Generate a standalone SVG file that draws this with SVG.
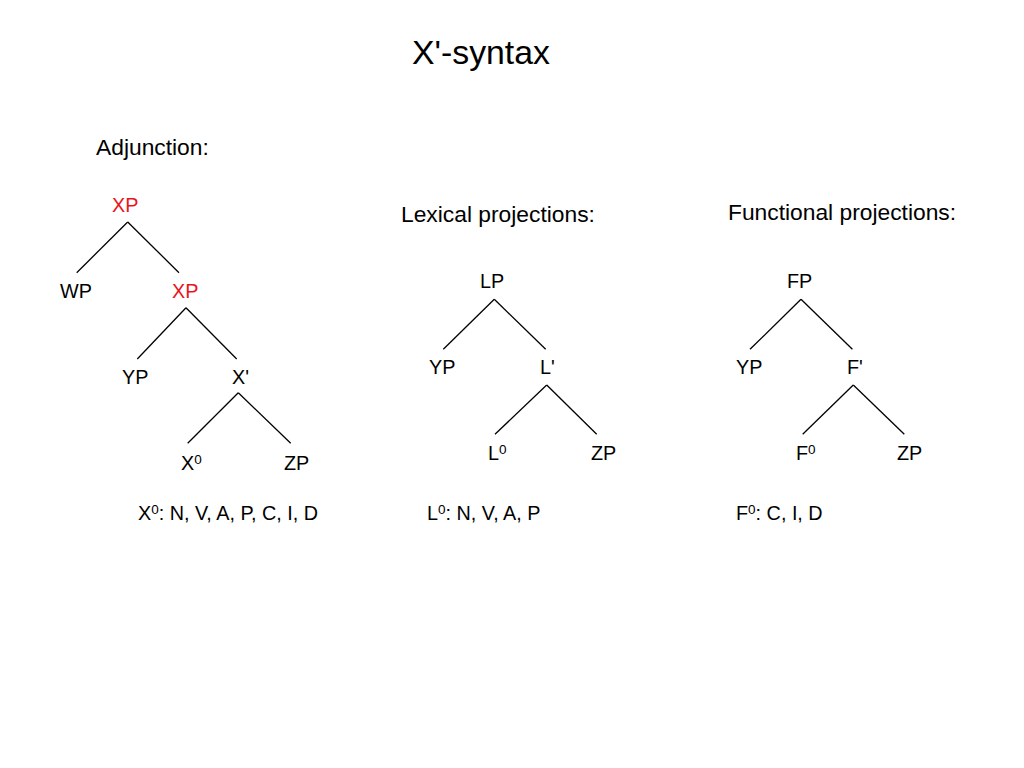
<svg xmlns="http://www.w3.org/2000/svg" width="1024" height="768" viewBox="0 0 1024 768">
<style>
text{font-family:"Liberation Sans",Arial,sans-serif;fill:#000}
.t{font-size:33.8px}
.h{font-size:22.8px}
.n{font-size:19.8px}
.r{fill:#E8141C}
.s{font-size:13.5px}
.e line{stroke:#000;stroke-width:1.3}
</style>
<rect width="1024" height="768" fill="#fff"/>
<text class="t" x="412" y="64">X'-syntax</text>
<text class="h" x="96" y="155">Adjunction:</text>
<text class="h" x="401" y="222">Lexical projections:</text>
<text class="h" x="728" y="220">Functional projections:</text>
<g id="connectors" class="e">
<line x1="127.7" y1="222" x2="76.7" y2="272.7"/>
<line x1="127.7" y1="222" x2="179" y2="272.7"/>
<line x1="186" y1="307.7" x2="137.3" y2="359"/>
<line x1="186" y1="307.7" x2="236.7" y2="359"/>
<line x1="238.3" y1="392.7" x2="187.7" y2="443.3"/>
<line x1="238.3" y1="392.7" x2="290.7" y2="443.3"/>
<line x1="494.3" y1="299.3" x2="443.3" y2="349.3"/>
<line x1="494.3" y1="299.3" x2="545.7" y2="349.3"/>
<line x1="546.7" y1="385" x2="495" y2="434.3"/>
<line x1="546.7" y1="385" x2="596.7" y2="434.3"/>
<line x1="801" y1="299.3" x2="750" y2="349.3"/>
<line x1="801" y1="299.3" x2="852.4" y2="349.3"/>
<line x1="853.3" y1="385" x2="802.7" y2="434.3"/>
<line x1="853.3" y1="385" x2="904.3" y2="434.3"/>
</g>
<g id="adj-xp1"><text class="n r" x="112" y="212">XP</text></g>
<g id="adj-wp"><text class="n" x="60" y="298">WP</text></g>
<g id="adj-xp2"><text class="n r" x="172" y="298">XP</text></g>
<g id="adj-yp"><text class="n" x="122" y="384">YP</text></g>
<g id="adj-xbar"><text class="n" x="232" y="384">X'</text></g>
<g id="adj-x0"><text class="n" x="181" y="470">X<tspan class="s" dy="-6">0</tspan></text></g>
<g id="adj-zp"><text class="n" x="284" y="470">ZP</text></g>
<text class="n" x="138" y="520">X<tspan class="s" dy="-6">0</tspan><tspan dy="6">: N, V, A, P, C, I, D</tspan></text>
<g id="lex-lp"><text class="n" x="480" y="288">LP</text></g>
<g id="lex-yp"><text class="n" x="429" y="374">YP</text></g>
<g id="lex-lbar"><text class="n" x="540" y="374">L'</text></g>
<g id="lex-l0"><text class="n" x="488" y="460">L<tspan class="s" dy="-6">0</tspan></text></g>
<g id="lex-zp"><text class="n" x="591" y="460">ZP</text></g>
<text class="n" x="427" y="520">L<tspan class="s" dy="-6">0</tspan><tspan dy="6">: N, V, A, P</tspan></text>
<g id="fun-fp"><text class="n" x="787" y="288">FP</text></g>
<g id="fun-yp"><text class="n" x="736" y="374">YP</text></g>
<g id="fun-fbar"><text class="n" x="847" y="374">F'</text></g>
<g id="fun-f0"><text class="n" x="796" y="460">F<tspan class="s" dy="-6">0</tspan></text></g>
<g id="fun-zp"><text class="n" x="897" y="460">ZP</text></g>
<text class="n" x="736" y="520">F<tspan class="s" dy="-6">0</tspan><tspan dy="6">: C, I, D</tspan></text>
</svg>
